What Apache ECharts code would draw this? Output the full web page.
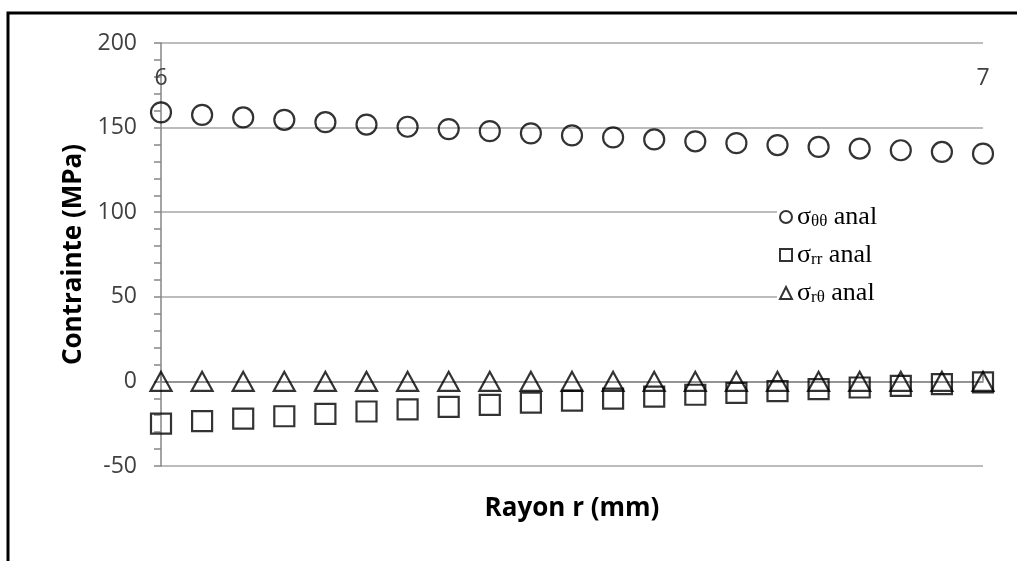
<!DOCTYPE html>
<html>
<head>
<meta charset="utf-8">
<script src="https://cdn.jsdelivr.net/npm/echarts@6/dist/echarts.min.js"></script>
<style>
  html, body { margin: 0; padding: 0; background: #fff; }
  #chart { width: 1017px; height: 561px; }
</style>
</head>
<body>
<div id="chart"></div>
<script>
// rayon r (mm)
const rayon = [6.00, 6.05, 6.10, 6.15, 6.20, 6.25, 6.30, 6.35, 6.40, 6.45, 6.50,
  6.55, 6.60, 6.65, 6.70, 6.75, 6.80, 6.85, 6.90, 6.95, 7.00]
// contraintes (MPa)
const sigmaTT = [159.0, 157.5, 156.0, 154.6, 153.2, 151.8, 150.5, 149.1, 147.9, 146.6, 145.4,
  144.2, 143.0, 141.9, 140.8, 139.7, 138.6, 137.6, 136.6, 135.6, 134.6]
const sigmaRR = [-25.0, -23.5, -22.0, -20.6, -19.2, -17.8, -16.5, -15.1, -13.9, -12.6, -11.4,
  -10.2, -9.0, -7.9, -6.8, -5.7, -4.6, -3.6, -2.6, -1.6, -0.6]
const sigmaRT = [0, 0, 0, 0, 0, 0, 0, 0, 0, 0, 0,
  0, 0, 0, 0, 0, 0, 0, 0, 0, 0]

const names = ['σθθ anal', 'σrr anal', 'σrθ anal']
const subs = { 'σθθ anal': 'θθ', 'σrr anal': 'rr', 'σrθ anal': 'rθ' }

function pairs(ys) {
  return rayon.map((r, i) => [r, ys[i]])
}

function scatter(name, ys, symbol) {
  return {
    name: name,
    type: 'scatter',
    symbol: symbol,
    symbolSize: symbol === 'triangle' ? [21, 19] : 20,
    itemStyle: {
      color: 'rgba(0,0,0,0)',
      borderColor: '#000',
      borderWidth: 2.2
    },
    data: pairs(ys)
  }
}

const chart = echarts.init(document.getElementById('chart'))
chart.setOption({
  backgroundColor: '#fff',
  animation: false,
  graphic: [{
    type: 'rect',
    shape: { x: 8, y: 13, width: 1040, height: 600 },
    style: { fill: 'none', stroke: '#000', lineWidth: 3 },
    z: 100
  }],
  grid: {
    left: 161,
    right: 34,
    top: 43,
    bottom: 95
  },
  legend: {
    data: names,
    orient: 'vertical',
    left: 777,
    top: 202,
    itemWidth: 12,
    itemHeight: 12,
    itemGap: 12,
    padding: [2, 120, 2, 2],
    backgroundColor: '#fff',
    formatter: function (name) {
      return '{s|σ}{sub|' + subs[name] + '}{t| anal}'
    },
    textStyle: {
      rich: {
        s: { fontFamily: 'Liberation Serif', fontSize: 26, color: '#000', lineHeight: 28 },
        sub: { fontFamily: 'Liberation Serif', fontSize: 17, color: '#000', padding: [9, 0, 0, 0], lineHeight: 28 },
        t: { fontFamily: 'Liberation Serif', fontSize: 26, color: '#000', lineHeight: 28 }
      }
    }
  },
  xAxis: [{
    type: 'value',
    position: 'top',
    min: 6,
    max: 7,
    interval: 1,
    axisLine: { show: true, lineStyle: { color: '#868686', width: 1.5 } },
    axisTick: { show: true, length: 9, lineStyle: { color: '#868686', width: 1.5 } },
    axisLabel: {
      inside: true,
      margin: 24,
      color: '#404040',
      fontFamily: 'Open Sans',
      fontSize: 23
    },
    splitLine: { show: false }
  }, {
    type: 'value',
    position: 'bottom',
    min: 6,
    max: 7,
    interval: 1,
    name: 'Rayon r (mm)',
    nameLocation: 'middle',
    nameGap: 30,
    nameTextStyle: {
      fontFamily: 'Open Sans',
      fontWeight: 'bold',
      fontSize: 26,
      color: '#000'
    },
    axisLine: { show: false },
    axisTick: { show: false },
    axisLabel: { show: false },
    splitLine: { show: false }
  }],
  yAxis: {
    type: 'value',
    min: -50,
    max: 200,
    interval: 50,
    name: 'Contrainte (MPa)',
    nameLocation: 'middle',
    nameGap: 71,
    nameTextStyle: {
      fontFamily: 'Open Sans',
      fontWeight: 'bold',
      fontSize: 26,
      color: '#000'
    },
    axisLine: { show: true, lineStyle: { color: '#868686', width: 1.5 } },
    axisTick: { show: true, length: 7, lineStyle: { color: '#868686', width: 1.5 } },
    minorTick: { show: true, splitNumber: 5, length: 7, lineStyle: { color: '#868686', width: 1.5 } },
    axisLabel: {
      margin: 24,
      color: '#404040',
      fontFamily: 'Open Sans',
      fontSize: 23
    },
    splitLine: { show: true, lineStyle: { color: '#a6a6a6', width: 1.5 } }
  },
  series: [
    scatter(names[0], sigmaTT, 'circle'),
    scatter(names[1], sigmaRR, 'rect'),
    scatter(names[2], sigmaRT, 'triangle')
  ]
})
</script>
</body>
</html>
